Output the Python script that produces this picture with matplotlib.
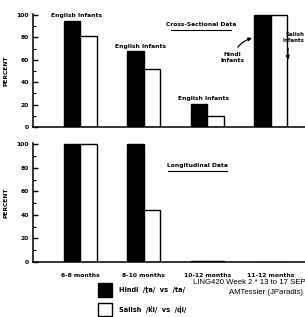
import matplotlib
matplotlib.use('Agg')
from matplotlib import pyplot as plt
from matplotlib.patches import Rectangle
from matplotlib.ticker import MultipleLocator

# data
age_groups = ['6-8 months', '8-10 months', '10-12 months', '11-12 months']
cross_hindi = [95, 68, 21, 100]
cross_salish = [81, 52, 10, 100]
long_hindi = [100, 100, 1, 0]
long_salish = [100, 44, 0.5, 0]
y_ticks = [0, 20, 40, 60, 80, 100]

W = 0.26
X = list(range(len(age_groups)))
FONT = dict(fontsize=4.3, fontweight='bold', family='DejaVu Sans')


def style_axis(ax):
    ax.set_xlim(-0.74, 3.54)
    ax.set_ylim(0, 101)
    for side in ('top', 'right'):
        ax.spines[side].set_visible(False)
    for side in ('left', 'bottom'):
        ax.spines[side].set_linewidth(1.1)
    ax.set_yticks(y_ticks)
    ax.set_yticklabels([str(t) for t in y_ticks], **FONT)
    ax.yaxis.set_minor_locator(MultipleLocator(10))
    ax.tick_params(axis='y', which='major', direction='in', length=3.5, width=1, pad=3)
    ax.tick_params(axis='y', which='minor', direction='in', length=2, width=0.8)
    ax.set_ylabel('PERCENT', labelpad=6, **FONT)


def draw_bars(ax, hindi, salish):
    ax.bar([x - W / 2 for x in X], hindi, W, color='black', edgecolor='black', linewidth=1)
    ax.bar([x + W / 2 for x in X], salish, W, color='white', edgecolor='black', linewidth=1)


def underlined(ax, x, y, s):
    t = ax.text(x, y, s, ha='center', va='bottom', **FONT)
    ax.plot([x - 0.47, x + 0.47], [y - 2.5, y - 2.5], color='black', lw=0.8, clip_on=False)
    return t


fig = plt.figure(figsize=(3.05, 3.17), dpi=100)

# Cross-sectional panel
ax_top = fig.add_axes([33 / 305, 1 - 127 / 317, 1 - 33 / 305, 113 / 317])
draw_bars(ax_top, cross_hindi, cross_salish)
style_axis(ax_top)
ax_top.set_xticks([])
for x, h in zip(X[:3], cross_hindi[:3]):
    ax_top.text(x - 0.05, h + 2, 'English Infants', ha='center', va='bottom', **FONT)
underlined(ax_top, 1.9, 89, 'Cross-Sectional Data')
ax_top.annotate('Hindi\nInfants', xy=(2.75, 80), xytext=(2.4, 62), ha='center', va='center',
                arrowprops=dict(arrowstyle='-|>', color='black', lw=0.9,
                                connectionstyle='arc3,rad=-0.3', mutation_scale=5), **FONT)
ax_top.annotate('Salish\nInfants', xy=(3.3, 58), xytext=(3.535, 80), ha='right', va='center',
                arrowprops=dict(arrowstyle='-|>', color='black', lw=0.9,
                                connectionstyle='arc3,rad=0.3', mutation_scale=5),
                annotation_clip=False, fontsize=4, fontweight='bold', family='DejaVu Sans')

# Longitudinal panel
ax_bot = fig.add_axes([33 / 305, 1 - 262 / 317, 1 - 33 / 305, 119 / 317])
draw_bars(ax_bot, long_hindi, long_salish)
style_axis(ax_bot)
ax_bot.set_xticks(X)
ax_bot.set_xticklabels(age_groups, **FONT)
ax_bot.tick_params(axis='x', length=0, pad=8)
underlined(ax_bot, 1.85, 80, 'Longitudinal Data')

# legend boxes
fig.patches.append(Rectangle((98 / 305, 1 - 297 / 317), 14 / 305, 14 / 317,
                             transform=fig.transFigure, facecolor='black', edgecolor='black', lw=1))
fig.patches.append(Rectangle((98 / 305, 1 - 316 / 317), 14 / 305, 13 / 317,
                             transform=fig.transFigure, facecolor='white', edgecolor='black', lw=1))
fig.text(119 / 305, 1 - 290 / 317, 'Hindi  /ʈa/  vs  /ta/', ha='left', va='center',
         fontsize=4.8, fontweight='bold', family='DejaVu Sans')
fig.text(119 / 305, 1 - 310 / 317, 'Salish  /k̓i/  vs  /q̓i/', ha='left', va='center',
         fontsize=4.8, fontweight='bold', family='DejaVu Sans')

# course overlay
fig.text(193 / 305, 1 - 282 / 317, 'LING420 Week 2 * 13 to 17 SEP', ha='left', va='center',
         fontsize=5.6, family='Liberation Sans')
fig.text(303 / 305, 1 - 293 / 317, 'AMTessier (JParadis)', ha='right', va='center',
         fontsize=5.6, family='Liberation Sans')

fig.savefig('out.png', dpi=100)
